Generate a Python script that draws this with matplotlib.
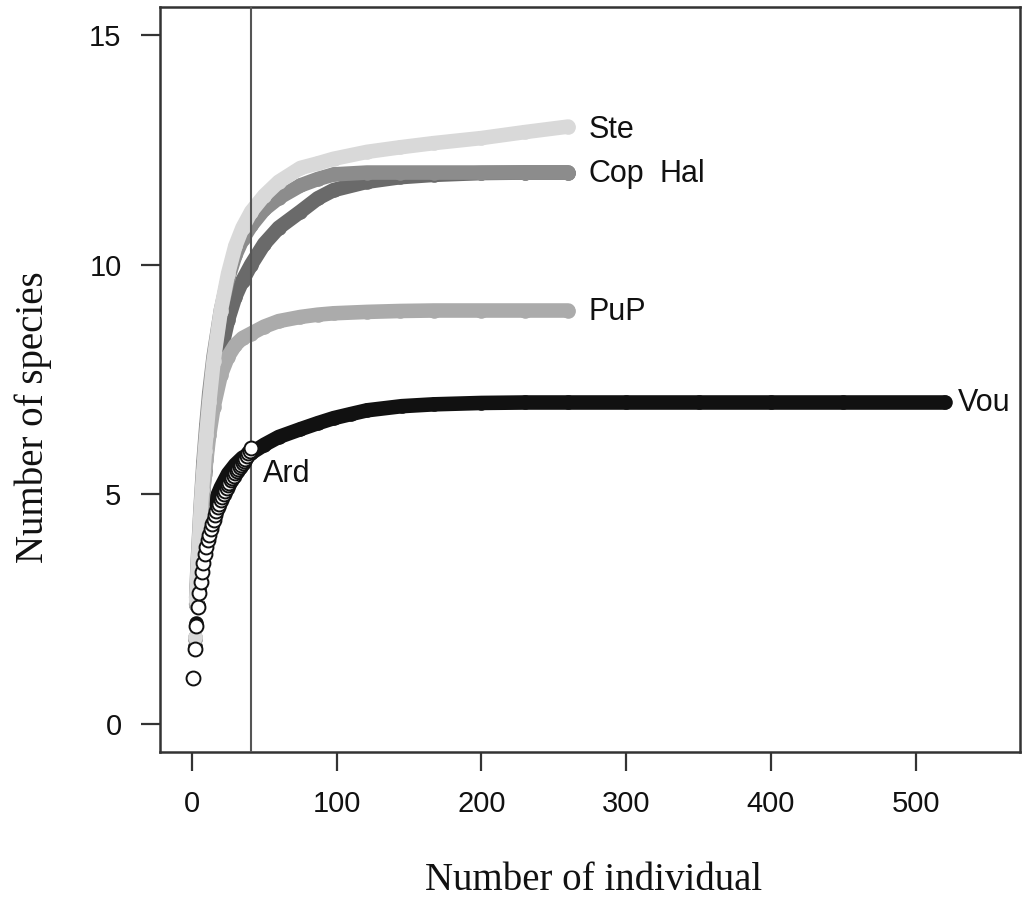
import matplotlib
matplotlib.use('Agg')
import matplotlib.pyplot as plt

# ---------------- data ----------------
ard_n = list(range(1, 42))
ard_s = [1.0, 1.65, 2.15, 2.55, 2.85, 3.1, 3.32, 3.52, 3.7, 3.86, 4.0, 4.12, 4.24, 4.35,
         4.45, 4.55, 4.64, 4.72, 4.8, 4.88, 4.95, 5.02, 5.08, 5.14, 5.2, 5.26, 5.31, 5.36,
         5.41, 5.46, 5.5, 5.55, 5.59, 5.64, 5.68, 5.73, 5.78, 5.84, 5.9, 5.95, 6.0]

vou_n = [1, 2, 3, 4, 5, 6, 7, 8, 9, 10, 12, 14, 16, 18, 20, 25, 30, 35, 41, 50, 60, 75,
         87, 98, 110, 121, 145, 167, 200, 230, 260, 300, 350, 400, 450, 520]
vou_s = [1.0, 1.7, 2.2, 2.6, 2.95, 3.25, 3.5, 3.72, 3.92, 4.08, 4.38, 4.62, 4.83, 5.0,
         5.15, 5.45, 5.65, 5.8, 5.9, 6.08, 6.25, 6.42, 6.55, 6.66, 6.75, 6.83, 6.92, 6.96,
         6.99, 7.0, 7.0, 7.0, 7.0, 7.0, 7.0, 7.0]

grp_n = [1, 2, 3, 4, 5, 6, 7, 8, 9, 10, 12, 15, 20, 25, 30, 35, 41, 50, 60, 75, 87, 98,
         121, 144, 167, 200, 230, 260]
ste_s = [1.0, 1.9, 2.7, 3.4, 4.0, 4.6, 5.1, 5.5, 5.95, 6.3, 7.0, 7.9, 9.0, 9.8, 10.4,
         10.8, 11.15, 11.5, 11.8, 12.1, 12.2, 12.3, 12.45, 12.55, 12.64, 12.75, 12.88, 13.0]
cop_s = [1.0, 1.9, 2.75, 3.5, 4.1, 4.7, 5.2, 5.7, 6.1, 6.5, 7.2, 8.0, 9.0, 9.7, 10.2,
         10.55, 10.85, 11.2, 11.45, 11.72, 11.86, 11.96, 12.0, 12.0, 12.0, 12.0, 12.0, 12.0]
hal_s = [1.0, 1.85, 2.6, 3.25, 3.8, 4.3, 4.75, 5.15, 5.5, 5.85, 6.45, 7.2, 8.1, 8.8, 9.3,
         9.65, 10.0, 10.45, 10.8, 11.15, 11.44, 11.62, 11.8, 11.9, 11.95, 11.99, 12.0, 12.0]
pup_s = [1.0, 1.85, 2.6, 3.25, 3.8, 4.3, 4.7, 5.1, 5.45, 5.75, 6.3, 6.9, 7.6, 8.0, 8.25,
         8.4, 8.5, 8.65, 8.77, 8.86, 8.91, 8.94, 8.97, 8.99, 9.0, 9.0, 9.0, 9.0]

x_ticks = [0, 100, 200, 300, 400, 500]
y_ticks = [0, 5, 10, 15]
cut_n = 41

# ---------------- figure ----------------
W, H = 1030, 898
fig = plt.figure(figsize=(W / 100, H / 100), dpi=100)
ax = fig.add_axes([160 / W, 146 / H, 860 / W, 745 / H])
ax.set_xlim(-22, 572)
ax.set_ylim(-0.6, 15.6)

band = 10.5
def band_curve(n, s, color, z, start=2):
    ax.plot(n[start:], s[start:], '-', color=color, lw=band, solid_capstyle='round',
            solid_joinstyle='round', zorder=z)
    ax.plot(n, s, 'o', color=color, ms=band, mew=0, zorder=z)

band_curve(vou_n, vou_s, '#111111', 2, start=9)
band_curve(grp_n, hal_s, '#6a6a6a', 3)
band_curve(grp_n, cop_s, '#8c8c8c', 4)
band_curve(grp_n, pup_s, '#ababab', 5)
band_curve(grp_n, ste_s, '#d9d9d9', 6)
ax.plot(ard_n, ard_s, 'o', ms=10, mfc='white', mec='#111111', mew=1.4, ls='none', zorder=8)

ax.axvline(cut_n, color='#555555', lw=1.5, zorder=7)

lab_kw = dict(fontsize=22, family='Liberation Sans', va='center', ha='left', color='#111111')
ax.text(274, 12.93, 'Ste', **lab_kw)
ax.text(274, 11.97, 'Cop', **lab_kw)
ax.text(323, 11.97, 'Hal', **lab_kw)
ax.text(274, 8.96, 'PuP', **lab_kw)
ax.text(529, 6.98, 'Vou', **lab_kw)
ax.text(49, 5.45, 'Ard', **lab_kw)

ax.set_xticks(x_ticks)
ax.set_yticks(y_ticks)
ax.tick_params(direction='out', length=13.7, width=1.6, color='#333333',
               labelsize=21, pad=14, labelcolor='#111111')
for lab in ax.get_xticklabels() + ax.get_yticklabels():
    lab.set_family('Liberation Sans')
for sp in ax.spines.values():
    sp.set_linewidth(1.8)
    sp.set_color('#333333')

fig.text(594 / W, 1 - 881 / H, 'Number of individual', family='Liberation Serif',
         fontsize=28, ha='center', va='center', color='#111111')
fig.text(33 / W, 1 - 417 / H, 'Number of species', family='Liberation Serif',
         fontsize=28, ha='center', va='center', rotation=90, color='#111111')

fig.savefig('out.png', dpi=100, facecolor='white')
